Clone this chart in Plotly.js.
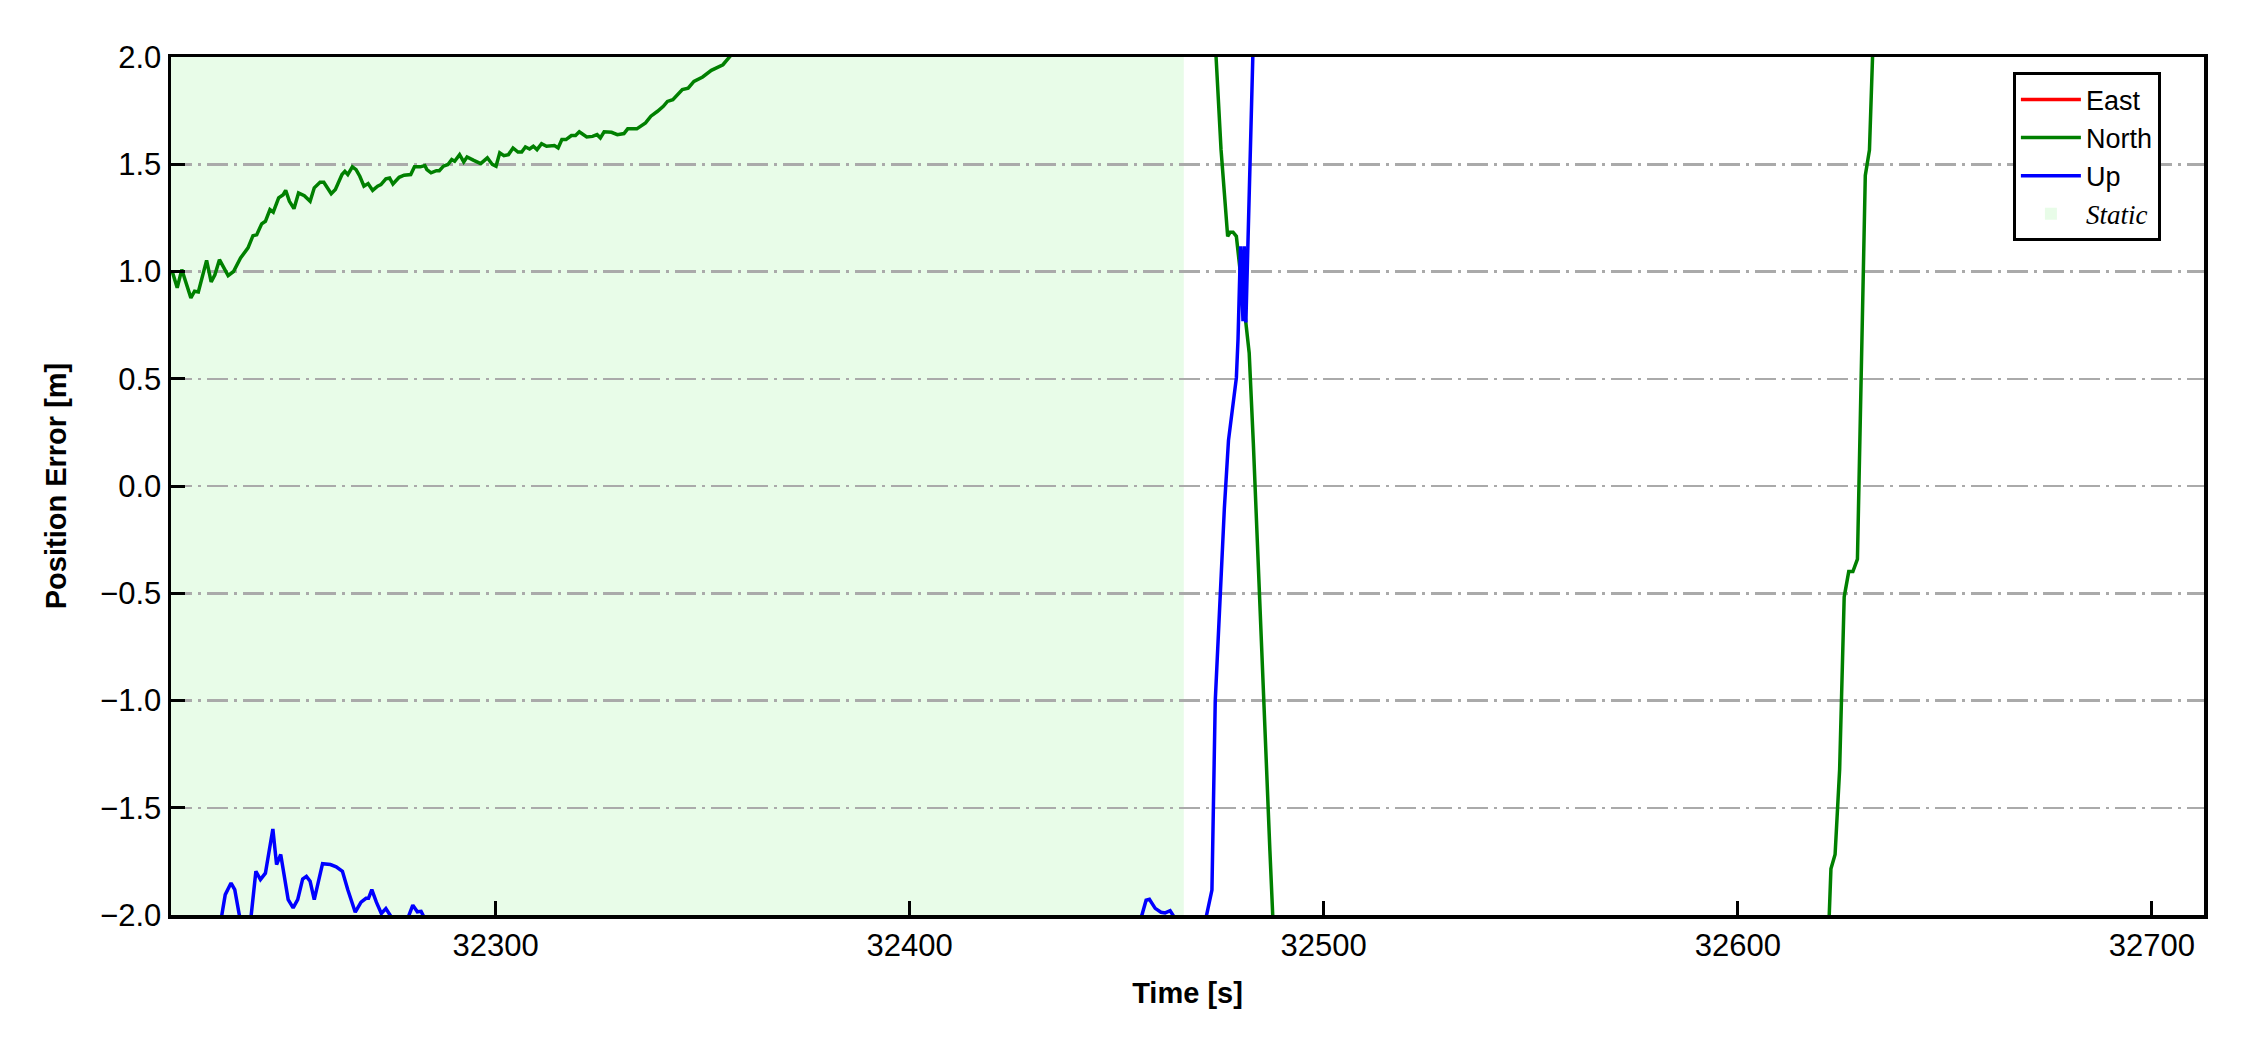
<!DOCTYPE html>
<html>
<head>
<meta charset="utf-8">
<script src="https://cdn.plot.ly/plotly-3.0.1.min.js"></script>
<style>html,body{margin:0;padding:0;background:#fff;}#chart{width:2250px;height:1050px;}</style>
</head>
<body>
<div id="chart"></div>
<script>
// ---- Data ----
const northTime = [32221.9,32223.1,32224.2,32226.4,32227.3,32228.2,32230.2,32231.3,32232.2,32233.3,32235.4,32236.7,32238.4,32240.2,32241.4,32242.3,32243.5,32244.4,32245.5,32246.3,32247.6,32248.7,32249.3,32250.2,32251.3,32252.4,32253.8,32255.2,32256.2,32257.6,32258.5,32260.3,32261.3,32262.9,32263.6,32264.3,32265.4,32266.3,32267.2,32268.2,32269.2,32270.3,32271.5,32272.3,32273.5,32274.4,32275.2,32276.7,32277.9,32279.5,32280.4,32281.8,32282.9,32283.4,32284.4,32285.7,32286.4,32287.4,32288.5,32289.4,32290.1,32291.3,32292.3,32293.1,32294.6,32296.4,32298.0,32299.2,32300.1,32301.0,32302.0,32303.1,32304.2,32305.4,32306.3,32307.2,32308.2,32309.1,32310.0,32311.1,32312.3,32314.2,32315.1,32316.0,32317.0,32318.3,32319.3,32320.2,32322.0,32323.4,32324.5,32325.3,32326.2,32328.0,32329.4,32331.0,32331.9,32334.1,32336.2,32337.5,32339.1,32340.5,32341.5,32342.8,32345.1,32346.5,32347.9,32350.0,32352.1,32354.9,32356.7,32360,32380,32400,32420,32440,32460,32470,32473,32474.0,32475.2,32476.0,32476.8,32477.4,32478.1,32478.9,32480,32481,32482,32483,32484,32485,32486,32487,32488,32500,32530,32560,32590,32610,32620,32621.9,32622.5,32623.5,32624.6,32625.7,32626.8,32627.8,32628.9,32630.8,32631.8,32632.6,32640,32660,32690,32713];
const northError = [1.000,0.924,1.009,0.877,0.908,0.905,1.052,0.951,0.985,1.055,0.981,1.000,1.063,1.110,1.167,1.171,1.222,1.234,1.289,1.277,1.343,1.358,1.378,1.327,1.293,1.366,1.353,1.327,1.390,1.416,1.416,1.363,1.382,1.452,1.467,1.452,1.488,1.475,1.444,1.398,1.410,1.378,1.398,1.405,1.432,1.436,1.408,1.439,1.449,1.452,1.488,1.488,1.494,1.475,1.460,1.470,1.470,1.491,1.499,1.522,1.514,1.545,1.511,1.534,1.519,1.503,1.530,1.499,1.491,1.553,1.540,1.545,1.576,1.557,1.557,1.581,1.571,1.584,1.568,1.596,1.584,1.587,1.576,1.615,1.615,1.634,1.634,1.651,1.627,1.630,1.638,1.623,1.651,1.649,1.638,1.643,1.665,1.665,1.693,1.724,1.747,1.770,1.793,1.801,1.848,1.855,1.886,1.907,1.938,1.964,2.005,2.08,2.25,2.4,2.55,2.6,2.45,2.25,2.1,2.0,1.568,1.366,1.164,1.183,1.183,1.164,0.98,0.80,0.62,0.20,-0.30,-0.76,-1.24,-1.70,-2.14,-2.9,-3.6,-3.8,-3.3,-2.7,-2.3,-2.1,-1.784,-1.718,-1.322,-0.517,-0.399,-0.399,-0.341,1.448,1.566,2.03,2.5,3.2,3.6,3.9];

const upTime = [32221.9,32230,32233.7,32234.7,32236.1,32237.0,32238.1,32239.5,32240.7,32242.1,32243.2,32244.4,32246.2,32247.1,32248.1,32249.9,32251.1,32252.2,32253.4,32254.3,32255.2,32256.2,32258.2,32260.1,32261.5,32263.0,32264.3,32266.1,32267.5,32268.7,32269.3,32270.1,32271.2,32272.4,32273.5,32274.9,32276.5,32278.5,32280.0,32281.1,32282.0,32282.7,32290,32320,32360,32400,32430,32450,32456.1,32457.1,32457.9,32459.3,32460.7,32461.7,32462.9,32463.9,32467,32471.6,32473.0,32473.8,32475.0,32476.0,32477.0,32478.1,32478.9,32479.3,32479.9,32480.5,32480.8,32481.2,32482.9,32490,32530,32600,32660,32713];
const upError = [-2.4,-2.2,-2.02,-1.905,-1.851,-1.882,-2.0,-2.12,-2.05,-1.796,-1.835,-1.805,-1.599,-1.765,-1.718,-1.928,-1.967,-1.928,-1.832,-1.820,-1.843,-1.928,-1.761,-1.765,-1.775,-1.796,-1.882,-1.987,-1.940,-1.922,-1.922,-1.882,-1.940,-1.993,-1.970,-2.01,-2.06,-2.03,-1.954,-1.985,-1.983,-2.01,-2.3,-2.6,-2.8,-2.7,-2.45,-2.2,-2.0,-1.931,-1.927,-1.969,-1.987,-1.99,-1.98,-2.01,-2.12,-2.01,-1.884,-1.004,-0.502,-0.105,0.213,0.392,0.504,0.683,1.118,0.768,1.118,0.763,2.02,2.8,3.5,3.3,3.0,2.9];

const eastTime = [32221.9,32300,32400,32500,32600,32713];
const eastError = [2.6,3.0,3.4,3.9,4.5,5.2];

const staticPeriod = [32221.0, 32466.2];
const yLimits = [-2.0, 2.0];
const xLimits = [32221.6, 32712.6];
const seriesNames = ['East', 'North', 'Up', 'Static'];

// ---- Traces ----
const traces = [
  {x: eastTime, y: eastError, type: 'scatter', mode: 'lines', name: seriesNames[0],
   line: {color: '#ff0000', width: 3.5}, legendrank: 1},
  {x: northTime, y: northError, type: 'scatter', mode: 'lines', name: seriesNames[1],
   line: {color: '#008000', width: 3.5}, legendrank: 2},
  {x: upTime, y: upError, type: 'scatter', mode: 'lines', name: seriesNames[2],
   line: {color: '#0000ff', width: 3.5}, legendrank: 3}
];

const baseFont = {family: 'Liberation Sans, Arial, sans-serif', color: '#000'};

const layout = {
  width: 2250, height: 1050,
  margin: {l: 171, r: 46, t: 57, b: 135},
  paper_bgcolor: '#fff', plot_bgcolor: '#fff',
  font: Object.assign({size: 31}, baseFont),
  showlegend: true,
  legend: {
    x: 0.906, y: 0.982, xanchor: 'left', yanchor: 'top',
    bgcolor: '#fff', bordercolor: '#000', borderwidth: 3,
    font: Object.assign({size: 27}, baseFont),
    itemwidth: 60,
    traceorder: 'normal'
  },
  shapes: [{
    type: 'rect', xref: 'x', yref: 'y', layer: 'below',
    x0: staticPeriod[0], x1: staticPeriod[1], y0: yLimits[0], y1: yLimits[1],
    fillcolor: '#e8fce8', line: {width: 0},
    showlegend: true, legendrank: 4,
    name: '<span style="font-family:Liberation Serif"><i>' + seriesNames[3] + '</i></span>'
  }],
  xaxis: {
    range: xLimits, tickmode: 'linear', tick0: 32300, dtick: 100, tickformat: 'd',
    showline: true, linecolor: '#000', linewidth: 3.5, mirror: true,
    ticks: 'inside', ticklen: 14, tickwidth: 3, tickcolor: '#000',
    showgrid: false, zeroline: false,
    tickfont: Object.assign({size: 31}, baseFont),
    title: {text: '<b>Time [s]</b>', font: Object.assign({size: 29}, baseFont), standoff: 22}
  },
  yaxis: {
    range: yLimits, tickmode: 'linear', tick0: -2, dtick: 0.5, tickformat: '.1f',
    showline: true, linecolor: '#000', linewidth: 3.5, mirror: true,
    ticks: 'inside', ticklen: 14, tickwidth: 3, tickcolor: '#000',
    showgrid: true, gridcolor: '#aaaaaa', gridwidth: 2.5, griddash: '21px,6px,3px,6px',
    zeroline: false,
    tickfont: Object.assign({size: 31}, baseFont),
    title: {text: '<b>Position Error [m]</b>', font: Object.assign({size: 29}, baseFont), standoff: 26}
  }
};

Plotly.newPlot('chart', traces, layout, {displayModeBar: false, staticPlot: true});
</script>
</body>
</html>
